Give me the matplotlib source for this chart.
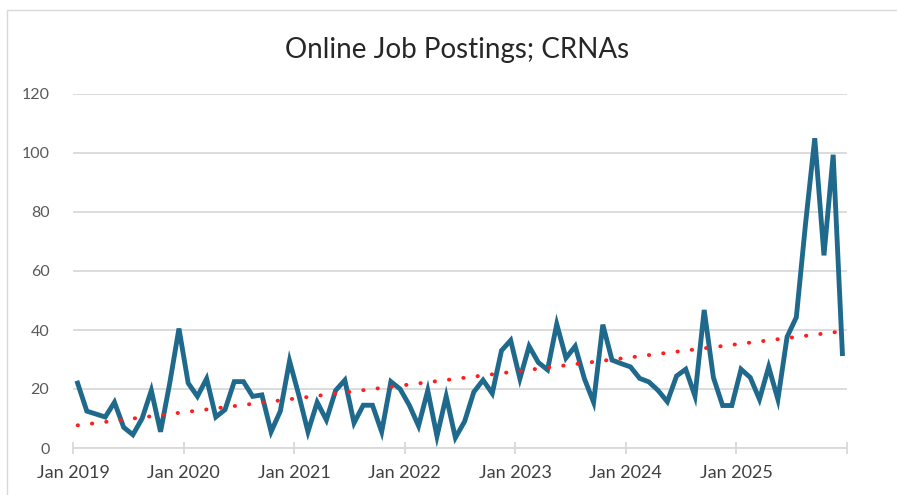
import numpy as np
import matplotlib
matplotlib.use("Agg")
import matplotlib.pyplot as plt
from matplotlib.patches import Rectangle

title = "Online Job Postings; CRNAs"
years = ["Jan 2019", "Jan 2020", "Jan 2021", "Jan 2022", "Jan 2023", "Jan 2024", "Jan 2025", ""]
yticks = [0, 20, 40, 60, 80, 100, 120]

# monthly postings, Jan 2019 .. Dec 2025
postings = [
    22, 12.5, 11.5, 10.5, 15.5, 7, 4.5, 10, 19.5, 5.5, 22, 40.5,   # 2019
    22, 17.5, 23.5, 10.5, 13, 22.5, 22.5, 17.5, 18, 5.5, 12.5, 29.5,  # 2020
    18, 5.5, 15.5, 9.5, 19.5, 23, 8.5, 14.5, 14.5, 5.5, 22.5, 20,     # 2021
    14.5, 7.5, 19.5, 4, 17.5, 3.5, 9, 19, 23, 18.5, 33, 36.5,         # 2022
    23.5, 34.5, 29, 26.5, 42, 30.5, 34.5, 23.5, 15.5, 41.8, 29.8, 28.6,  # 2023
    27.5, 23.6, 22.4, 19.5, 15.7, 24.4, 26.7, 17.6, 46.8, 23.9, 14.4, 14.4,  # 2024
    26.7, 23.9, 16.5, 27.5, 16.5, 37.7, 44.3, 76, 105, 65.3, 99.4, 32,  # 2025
]

n = len(postings)
x = np.arange(n)
coef = np.polyfit(x, postings, 1)
trend = np.polyval(coef, x)

W, H = 897, 495
fig = plt.figure(figsize=(W / 100, H / 100), dpi=100)
fig.patch.set_facecolor("white")

# chart border (cropped at right / bottom)
fig.patches.append(Rectangle((7 / W, -0.1), 1.2, (495 - 10) / H + 0.1,
                             transform=fig.transFigure, fill=False,
                             edgecolor="#D9D9D9", linewidth=1.0))

ax = fig.add_axes([73 / W, (H - 448) / H, (847 - 73) / W, (448 - 94) / H])
ax.set_facecolor("white")

ax.plot(x, trend, color="#FF1E1E", linewidth=2.8, linestyle=(0, (0.1, 3.6)),
        dash_capstyle="round", zorder=3)
ax.plot(x, postings, color="#1F6A8C", linewidth=3.5, solid_joinstyle="miter",
        zorder=2)

ax.set_xlim(-0.5, n - 0.5)
ax.set_ylim(0, 120)
ax.set_yticks(yticks)
ax.set_yticklabels([str(v) for v in yticks])
ax.yaxis.grid(True, color="#D9D9D9", linewidth=1.3)
ax.set_axisbelow(True)

tick_pos = np.arange(-0.5, n, 12)
ax.set_xticks(tick_pos)
ax.set_xticklabels(years[:len(tick_pos)])

for s in ["top", "right", "left"]:
    ax.spines[s].set_visible(False)
ax.spines["bottom"].set_color("#D9D9D9")
ax.spines["bottom"].set_linewidth(1.3)

ax.tick_params(axis="y", length=0, pad=17, labelsize=11.5, labelcolor="#595959")
ax.tick_params(axis="x", direction="inout", length=8, width=1.3, color="#D9D9D9",
               pad=8, labelsize=13, labelcolor="#404040")
for lab in ax.get_yticklabels() + ax.get_xticklabels():
    lab.set_fontfamily("Lato")

fig.text(457 / W, 1 - 50 / H, title, ha="center", va="center",
         fontsize=20, color="#262626", fontfamily="Lato")

fig.savefig("out.png", dpi=100, facecolor="white")
